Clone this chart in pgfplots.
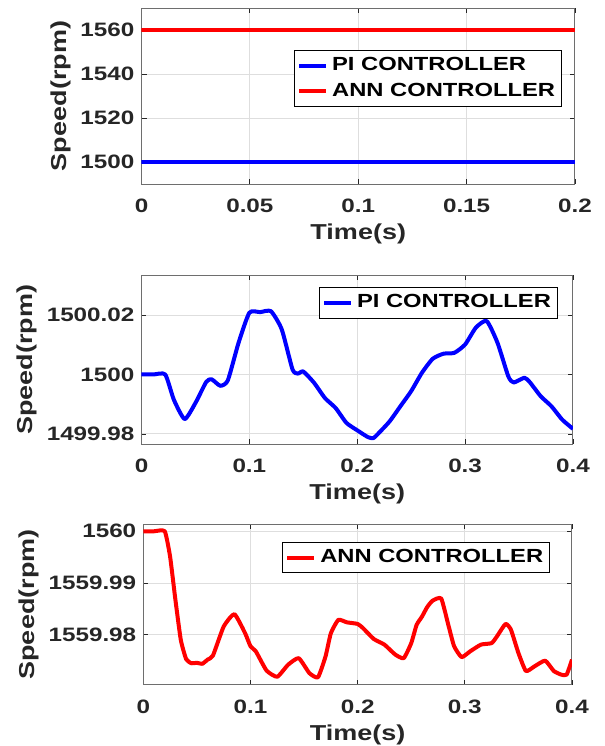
\documentclass[border=0pt]{standalone}
\usepackage{fontspec}
\setmainfont{Liberation Sans}[FakeStretch=1.25]
\usepackage{pgfplots}
\pgfplotsset{compat=1.18}

\definecolor{axgray}{RGB}{38,38,38}
\definecolor{boxgray}{RGB}{110,110,110}
\definecolor{gridgray}{RGB}{222,222,222}

\pgfplotsset{
  mystyle/.style={
    scale only axis,
    axis line style={draw=boxgray, line width=0.5pt},
    tick style={draw=axgray, line width=0.4pt},
    tick align=inside,
    major tick length=2.5pt,
    grid=major,
    grid style={draw=gridgray, line width=0.5pt},
    ticklabel style={font=\fontsize{9.7}{11}\selectfont\bfseries, text=axgray},
    label style={font=\fontsize{10.8}{12}\selectfont\bfseries, text=axgray},
    xlabel={Time(s)},
    ylabel={Speed(rpm)},
    /pgf/number format/assume math mode=true,
    legend style={font=\fontsize{9.5}{11}\selectfont\bfseries, draw=black, line width=0.5pt, inner xsep=1.2pt, inner ysep=1.6pt, row sep=0.8pt},
    legend cell align=left,
    legend image code/.code={\draw[##1] (0pt,0pt) -- (13.5pt,0pt);},
    scaled ticks=false,
    every axis plot/.append style={line width=2pt, line join=round},
    xlabel style={yshift=1.5pt},
    ylabel style={yshift=-2pt},
    xticklabel style={yshift=-4pt},
  }
}

\begin{document}
\begin{tikzpicture}
\path[use as bounding box] (0pt,0pt) rectangle (302.5pt,-373pt);

% ---------- top ----------
\begin{axis}[mystyle,
  at={(70.75pt,-4pt)}, anchor=north west,
  width=216.75pt, height=88pt,
  xmin=0, xmax=0.2, ymin=1490, ymax=1570,
  xtick={0,0.05,0.1,0.15,0.2}, xticklabels={0,0.05,0.1,0.15,0.2},
  ytick={1500,1520,1540,1560}, yticklabels={1500,1520,1540,1560},
  legend style={at={(0.97,0.763)}, anchor=north east},
]
\addplot[blue] coordinates {(0,1500) (0.2,1500)};
\addlegendentry{PI CONTROLLER}
\addplot[red] coordinates {(0,1560) (0.2,1560)};
\addlegendentry{ANN CONTROLLER}
\end{axis}

% ---------- middle ----------
\begin{axis}[mystyle,
  at={(70.75pt,-137.5pt)}, anchor=north west,
  width=215.75pt, height=84.5pt,
  xmin=0, xmax=0.4, ymin=1499.9766, ymax=1500.0335,
  xtick={0,0.1,0.2,0.3,0.4}, xticklabels={0,0.1,0.2,0.3,0.4},
  ytick={1499.98,1500,1500.02}, yticklabels={1499.98,1500,1500.02},
  legend style={at={(0.965,0.93)}, anchor=north east},
]
\addplot[blue, smooth, tension=0.35] coordinates {
(0,1500.000) (0.011,1500.000) (0.022,1500.000) (0.03,1499.9915) (0.04,1499.9850)
(0.05,1499.9904) (0.06,1499.9975) (0.065,1499.9984) (0.073,1499.9962)
(0.08,1499.9980) (0.09,1500.0107) (0.1,1500.0208) (0.11,1500.0210)
(0.12,1500.0213) (0.13,1500.0152) (0.14,1500.0017) (0.145,1500.0003)
(0.15,1500.0010) (0.16,1499.9972) (0.17,1499.9921) (0.18,1499.9887)
(0.19,1499.9837) (0.2,1499.9812) (0.21,1499.9789) (0.215,1499.9786)
(0.22,1499.9803) (0.23,1499.9842) (0.24,1499.9893) (0.25,1499.9944)
(0.26,1500.0006) (0.27,1500.0053) (0.28,1500.0070) (0.29,1500.0073)
(0.3,1500.0101) (0.31,1500.0158) (0.32,1500.0180) (0.33,1500.0107)
(0.34,1499.9994) (0.345,1499.9973) (0.355,1499.9989) (0.36,1499.9974)
(0.37,1499.9927) (0.38,1499.9893) (0.39,1499.9848) (0.4,1499.9817)
};
\addlegendentry{PI CONTROLLER}
\end{axis}

% ---------- bottom ----------
\begin{axis}[mystyle,
  at={(71.65pt,-262pt)}, anchor=north west,
  width=214.35pt, height=80.5pt,
  xmin=0, xmax=0.4, ymin=1559.9703, ymax=1560.0014,
  xtick={0,0.1,0.2,0.3,0.4}, xticklabels={0,0.1,0.2,0.3,0.4},
  ytick={1559.98,1559.99,1560}, yticklabels={1559.98,1559.99,1560},
  legend style={at={(0.949,0.89)}, anchor=north east},
]
\addplot[red, smooth, tension=0.3] coordinates {
(0,1560.0000) (0.01,1560.0000) (0.02,1560.0000) (0.025,1559.9951) (0.03,1559.9867)
(0.035,1559.9790) (0.04,1559.9753) (0.045,1559.9745) (0.05,1559.9746)
(0.055,1559.9744) (0.06,1559.9752) (0.065,1559.9760) (0.075,1559.9816)
(0.085,1559.9840) (0.095,1559.9803) (0.1,1559.9778) (0.105,1559.9768)
(0.115,1559.9731) (0.125,1559.9719) (0.135,1559.9742) (0.145,1559.9755)
(0.155,1559.9726) (0.163,1559.9718) (0.17,1559.9758) (0.175,1559.9803)
(0.182,1559.9829) (0.19,1559.9824) (0.2,1559.9821) (0.205,1559.9813)
(0.215,1559.9792) (0.225,1559.9781) (0.235,1559.9762) (0.243,1559.9755)
(0.25,1559.9784) (0.255,1559.9819) (0.26,1559.9835) (0.265,1559.9854)
(0.27,1559.9866) (0.278,1559.9870) (0.285,1559.9816) (0.29,1559.9778)
(0.297,1559.9757) (0.305,1559.9768) (0.315,1559.9781) (0.325,1559.9784)
(0.33,1559.9797) (0.338,1559.9821) (0.343,1559.9810) (0.35,1559.9765)
(0.357,1559.9730) (0.365,1559.9739) (0.375,1559.9750) (0.383,1559.9730)
(0.39,1559.9723) (0.395,1559.9723) (0.4,1559.9752)
};
\addlegendentry{ANN CONTROLLER}
\end{axis}
\end{tikzpicture}
\end{document}
